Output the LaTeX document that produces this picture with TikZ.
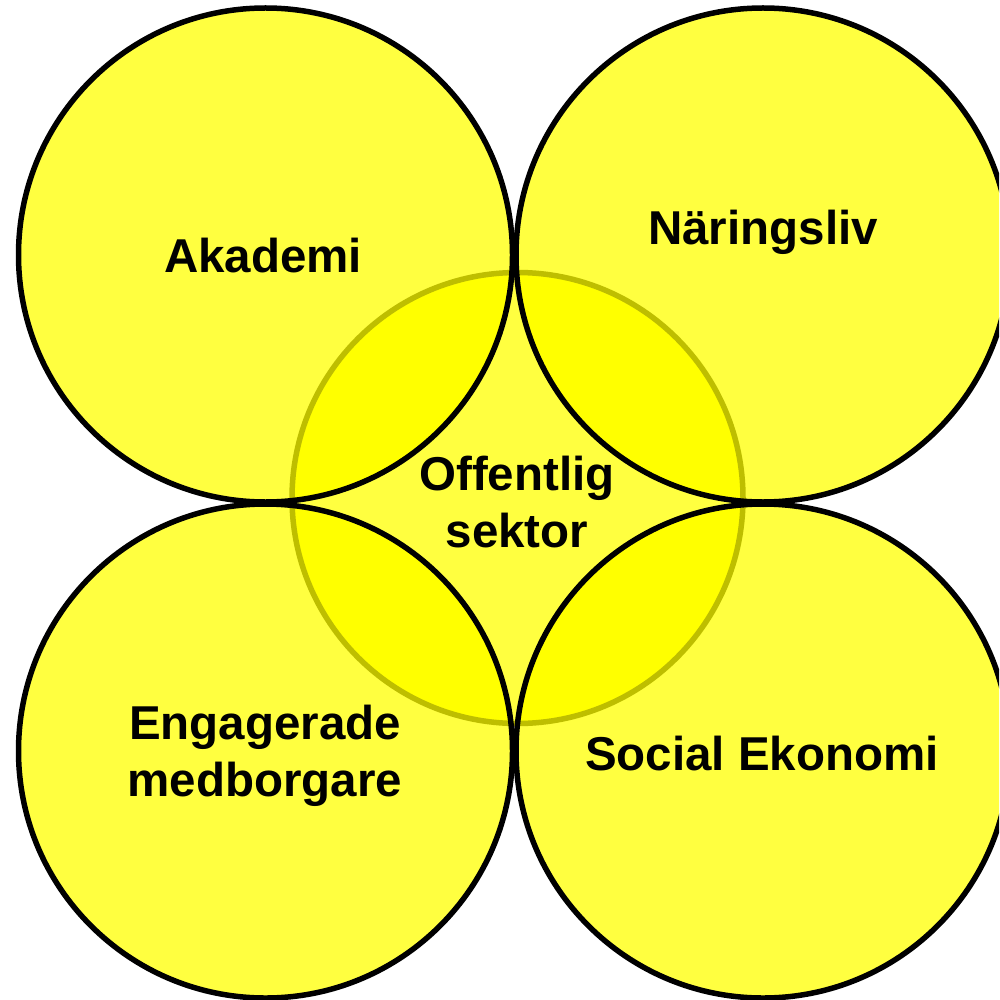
\documentclass[tikz,border=0pt]{standalone}
\usepackage{fontspec}
\setmainfont{Liberation Sans}
\definecolor{yel}{RGB}{255,255,64}
\definecolor{pureyel}{RGB}{255,255,0}
\definecolor{olive}{RGB}{190,190,0}
\begin{document}
\begin{tikzpicture}[x=1pt,y=-1pt,
  lbl/.style={font=\bfseries\fontsize{47.5}{57}\selectfont, align=center, inner sep=0pt, text=black},
  ring/.style={draw=black, line width=5.5pt}]
\useasboundingbox (0,0) rectangle (999,1000);
\clip (0,0) rectangle (999,1000);
\coordinate (cA) at (265.5,255);
\coordinate (cN) at (763,255);
\coordinate (cE) at (265.5,751);
\coordinate (cS) at (763,751);
\coordinate (cO) at (517.5,498);
% outer fills
\foreach \c in {cA,cN,cE,cS} \fill[yel] (\c) circle[radius=247];
% central circle fill
\fill[yel] (cO) circle[radius=225.5];
% overlap of central circle with the outer circles: pure yellow
\begin{scope}
  \clip (cO) circle[radius=225.5];
  \foreach \c in {cA,cN,cE,cS} \fill[pureyel] (\c) circle[radius=247];
\end{scope}
% central circle outline
\draw[olive, line width=5.5pt] (cO) circle[radius=225.5];
% outer outlines
\foreach \c in {cA,cN,cE,cS} \draw[ring] (\c) circle[radius=247];
% labels
\node[lbl, anchor=base] (akademi) at (263,272) {Akademi};
\node[lbl, anchor=base] (naring) at (763,244) {Näringsliv};
\node[lbl] (offentlig) at (517,502) {Offentlig\\sektor};
\node[lbl] (engagerade) at (265,756) {Engagerade\\medborgare};
\node[lbl, anchor=base] (social) at (762,770) {Social Ekonomi};
\end{tikzpicture}
\end{document}
